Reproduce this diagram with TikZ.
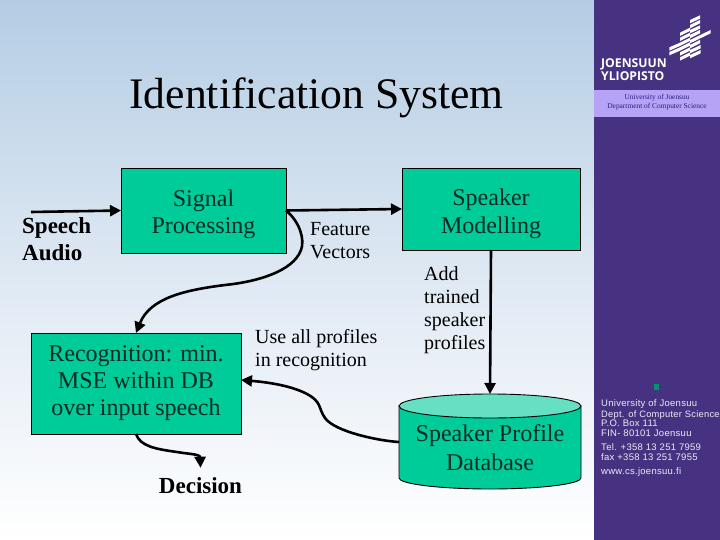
\documentclass[tikz,border=0pt]{standalone}
\usepackage{fontspec}
\setmainfont{Liberation Serif}
\newfontfamily\arialf{Liberation Sans}[LetterSpace=3]
\newfontfamily\logof{Open Sans}
\usetikzlibrary{arrows.meta,calc}
\definecolor{boxgreen}{RGB}{0,204,153}
\definecolor{lidgreen}{RGB}{102,224,194}
\definecolor{boxtext}{RGB}{0,42,36}
\definecolor{panel}{RGB}{70,50,128}
\definecolor{band}{RGB}{183,163,245}
\definecolor{bandtext}{RGB}{40,30,130}
\definecolor{contact}{RGB}{235,235,245}
\definecolor{bgtop}{RGB}{180,205,228}
\definecolor{bgmid}{RGB}{222,232,243}
\newcommand{\boxlines}[4][27.3]{\raisebox{#2}[30pt][30pt]{\parbox{#3pt}{\centering\fontsize{24}{#1}\selectfont #4}}}
\tikzset{
  procbox/.style={draw=black,line width=0.9pt,fill=boxgreen,text=boxtext,inner sep=0pt,outer sep=0pt,font=\fontsize{24}{27.3}\selectfont,align=center},
  flow/.style={line width=2.6pt,draw=black,-{Triangle[length=11pt,width=11pt]}},
  smalllabel/.style={font=\fontsize{20}{23.2}\selectfont,inner sep=0pt,align=left},
  boldlabel/.style={font=\fontsize{23}{27}\selectfont\bfseries,inner sep=0pt,align=left},
  contactline/.style={anchor=base west,inner sep=0pt,text=contact,font=\arialf\fontsize{9.5}{10}\selectfont},
  bandline/.style={inner sep=0pt,text=bandtext,font=\fontsize{7.4}{9}\selectfont},
  logoline/.style={anchor=base west,inner sep=0pt,text=white,font=\logof\bfseries\fontsize{12.2}{14}\selectfont}
}
\begin{document}
\begin{tikzpicture}[x=1pt,y=-1pt]
\useasboundingbox (0,0) rectangle (720,540);
% background
\fill[top color=bgtop,bottom color=white,middle color=bgmid] (0,0) rectangle (594,540);
\fill[panel] (594,0) rectangle (720,540);
\fill[band] (594,90) rectangle (720,117);
% logo bars
\begin{scope}[shift={(660,10)},x=0.3333pt,y=-0.3333pt]
\foreach \a/\b/\c/\d in {90/30/120/16,90/45/120/30,60/68/90/53,90/60/120/46,60/83/90/68,90/75/120/60,28/112/60/98,60/98/90/83,90/90/152/60,28/126/60/112,60/112/90/97,90/105/120/90,60/127/90/112,90/120/122/105,60/142/90/127,90/135/122/120}
  \fill[white] (\a,\b) -- (\c,\d) -- (\c,\d+10) -- (\a,\b+10) -- cycle;
\end{scope}
\node[logoline] (logoa) at (601,67.5) {JOENSUUN};
\node[logoline] (logob) at (601,81) {YLIOPISTO};
\node[bandline] (banda) at (657,97.5) {University of Joensuu};
\node[bandline] (bandb) at (657,107) {Department of Computer Science};
\fill[teal!85!green] (654,384) rectangle (659,390);
\node[contactline] (c1) at (601,406.7) {University of Joensuu};
\node[contactline,font=\arialf\fontsize{9.3}{10}\selectfont] (c2) at (601,417) {Dept. of Computer Science};
\node[contactline] (c3) at (601,426) {P.O. Box 111};
\node[contactline] (c4) at (601,436) {FIN- 80101 Joensuu};
\node[contactline] (c5) at (601,450) {Tel. +358 13 251 7959};
\node[contactline] (c6) at (601,460) {fax +358 13 251 7955};
\node[contactline] (c7) at (601,474) {www.cs.joensuu.fi};
% title
\node[inner sep=0pt,font=\fontsize{43.6}{50}\selectfont] (title) at (316.5,98) {Identification System};
% boxes
\node[procbox,minimum width=165pt,minimum height=85pt] (sig) at (203.5,210.5) {\boxlines{-10pt}{160}{Signal\\Processing}};
\node[procbox,minimum width=178pt,minimum height=82pt] (spk) at (491,209) {\boxlines{-11pt}{170}{Speaker\\Modelling}};
\node[procbox,minimum width=210pt,minimum height=101pt] (rec) at (136,383.5) {\boxlines{-6pt}{205}{Recognition: min.\\MSE within DB\\over input speech}};
% database
\begin{scope}[shift={(490,441.5)}]
\filldraw[draw=black,line width=0.9pt,fill=boxgreen] (-91,-35.5) -- (-91,36.5) .. controls (-91,42.5) and (-50,47.5) .. (0,47.5) .. controls (50,47.5) and (91,42.5) .. (91,36.5) -- (91,-35.5) -- cycle;
\filldraw[draw=black,line width=0.9pt,fill=lidgreen] (0,-35.5) ellipse [x radius=91pt,y radius=12pt];
\end{scope}
\node[inner sep=0pt,outer sep=0pt,minimum width=182pt,minimum height=95pt,text=boxtext,font=\fontsize{24}{29}\selectfont,align=center] (db) at (490,441.5) {\boxlines[29]{-12.5pt}{180}{Speaker Profile\\Database}};
% labels
\node[boldlabel,anchor=west] (speech) at (22,239.5) {Speech\\Audio};
\node[boldlabel] (decision) at (200.5,486) {Decision};
\node[smalllabel,anchor=west] (feat) at (310,240.5) {Feature\\Vectors};
\node[smalllabel,anchor=west] (use) at (255,350) {Use all profiles\\in recognition};
\node[smalllabel,anchor=west] (add) at (424,310) {Add\\trained\\speaker\\profiles};
% connectors
\coordinate (src) at (31,212);
\draw[flow] (src) -- (sig.west);
\draw[flow] (sig.east) -- (spk.west);
\draw[flow] (sig.east) .. controls (300,222) and (305,240) .. (301,250) .. controls (293,272) and (255,282) .. (225,285) .. controls (185,290) and (150,298) .. (rec.north);
\draw[flow] (spk.south) -- (db.north);
\draw[flow] (db.west |- 0,442) .. controls (380,441) and (335,432) .. (325,418) .. controls (318,408) and (322,402) .. (307,394) .. controls (290,385) and (265,382) .. ($(rec.east)+(0,-3.5)$);
\draw[flow] (rec.south) .. controls (140,446) and (155,449) .. (177,452) .. controls (188,454) and (200,454) .. ($(decision.north)+(0,-10)$);
\end{tikzpicture}
\end{document}
